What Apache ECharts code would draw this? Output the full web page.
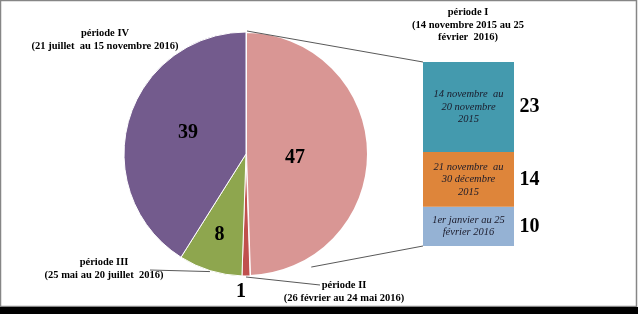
<!DOCTYPE html>
<html><head><meta charset="utf-8">
<script src="https://cdn.jsdelivr.net/npm/echarts@6/dist/echarts.min.js"></script>
<style>html,body{margin:0;padding:0;background:#fff}#c{width:638px;height:314px}</style>
</head><body><div id="c"></div>
<script>
// ---- data ----
const pieNames = ['période I\n(14 novembre 2015 au 25\nfévrier  2016)',
                  'période II\n(26 février au 24 mai 2016)',
                  'période III\n(25 mai au 20 juillet  2016)',
                  'période IV\n(21 juillet  au 15 novembre 2016)'];
const pieValues = [47, 1, 8, 39];
const barNames = ['14 novembre  au\n20 novembre\n2015',
                  '21 novembre  au\n30 décembre\n2015',
                  '1er janvier au 25\nfévrier 2016'];
const barValues = [23, 14, 10];

// ---- style / layout ----
const pieColors = ['#D99694', '#C0504D', '#8EA64E', '#735B8D'];
const barColors = ['#449AAE', '#DE853A', '#95B2D4'];
const FONT = '"Liberation Serif", "Times New Roman", serif';
const pieCenter = [246, 154], pieR = 122;
const gridBox = {left: 423, top: 62, width: 91, height: 184};
const valueLabelPos = [[295, 158], [241, 292], [219.5, 234.5], [188, 133]];
const nameLabelPos = [[468, 25], [344, 292], [104, 269], [105, 40]];
const leaderEnd = [null, [320, 285], [150, 270], null];

const total = pieValues.reduce((a, b) => a + b, 0);
const barTotal = barValues.reduce((a, b) => a + b, 0);
function midAngle(i) { // clockwise from top, degrees
  let s = 0; for (let k = 0; k < i; k++) s += pieValues[k];
  return (s + pieValues[i] / 2) / total * 360;
}
function piePoint(angDeg, r) {
  const a = angDeg * Math.PI / 180;
  return [pieCenter[0] + r * Math.sin(a), pieCenter[1] - r * Math.cos(a)];
}

const chart = echarts.init(document.getElementById('c'), null, {renderer: 'canvas'});

// stacked bar series: bottom first
const barSeries = [];
for (let i = barValues.length - 1; i >= 0; i--) {
  barSeries.push({
    type: 'bar', stack: 'b', barWidth: '100%', silent: true,
    data: [barValues[i]],
    itemStyle: {color: barColors[i]},
    label: {show: true, position: 'inside', formatter: barNames[i],
      fontFamily: FONT, fontStyle: 'italic', fontSize: 10.5, lineHeight: 12.5,
      color: '#1a1a2a', align: 'center'}
  });
}
const mids = [];
{
  let acc = 0;
  for (let i = barValues.length - 1; i >= 0; i--) { mids[i] = acc + barValues[i] / 2; acc += barValues[i]; }
}
const valLabel = {show: true, position: 'right', distance: 51, fontFamily: FONT,
  fontWeight: 'bold', fontSize: 20, color: '#000', textBorderWidth: 0, opacity: 1};

const frame = [
  {type: 'rect', z: -100, shape: {x: 0.5, y: 0.5, width: 636, height: 306},
    style: {fill: '#fff', stroke: '#868686', lineWidth: 1.5}},
  {type: 'rect', z: -100, shape: {x: 0, y: 307, width: 638, height: 7}, style: {fill: '#000'}}
];

const option = {
  animation: false,
  textStyle: {fontFamily: FONT},
  graphic: frame,
  grid: Object.assign({containLabel: false}, gridBox),
  xAxis: {type: 'category', data: ['I'], show: false},
  yAxis: {type: 'value', min: 0, max: barTotal, show: false},
  series: [
    ...barSeries,
    {type: 'scatter', symbolSize: 0, silent: true, z: 10,
      itemStyle: {color: '#000', opacity: 1},
      data: barValues.map((v, i) => ({value: [0, mids[i]],
        label: Object.assign({}, valLabel, {formatter: String(v)})})),
      label: valLabel
    },
    { // slices with value labels
      type: 'pie', center: pieCenter, radius: pieR, startAngle: 90, clockwise: true,
      silent: true,
      itemStyle: {borderColor: '#fff', borderWidth: 1},
      data: pieValues.map((v, i) => ({value: v, name: 'v' + i,
        itemStyle: {color: pieColors[i], borderWidth: i === 0 ? 2 : 1}})),
      label: {show: true, position: 'inside', formatter: '{c}', fontFamily: FONT,
        fontWeight: 'bold', fontSize: 20, color: '#000'},
      labelLine: {show: false},
      labelLayout: p => ({x: valueLabelPos[p.dataIndex][0], y: valueLabelPos[p.dataIndex][1],
        align: 'center', verticalAlign: 'middle'})
    },
    { // name labels
      type: 'pie', center: pieCenter, radius: pieR, startAngle: 90, clockwise: true,
      silent: true, z: 5,
      itemStyle: {color: 'rgba(0,0,0,0)'},
      data: pieValues.map((v, i) => ({value: v, name: pieNames[i],
        labelLine: {show: !!leaderEnd[i]}})),
      label: {show: true, position: 'outside', formatter: '{b}', fontFamily: FONT,
        fontWeight: 'bold', fontSize: 10.5, lineHeight: 12.5, color: '#000', align: 'center',
        overflow: 'none'},
      labelLine: {lineStyle: {color: '#595959', width: 1}, length: 5, length2: 5},
      labelLayout: p => {
        const i = p.dataIndex;
        const o = {x: nameLabelPos[i][0], y: nameLabelPos[i][1], align: 'center',
          verticalAlign: 'middle', hideOverlap: false};
        if (leaderEnd[i]) {
          const s = piePoint(midAngle(i), pieR + 1);
          o.labelLinePoints = [s, s, leaderEnd[i]];
        }
        return o;
      }
    }
  ]
};
chart.setOption(option);

// connector lines between pie slice I and the bar
const yTop = chart.convertToPixel({yAxisIndex: 0}, barTotal);
const yBot = chart.convertToPixel({yAxisIndex: 0}, 0);
const pTop = piePoint(0, pieR + 1);
const pBot = piePoint(150, pieR * 1.07);
chart.setOption({graphic: frame.concat([
  {type: 'line', z: 50, shape: {x1: gridBox.left, y1: yTop, x2: pTop[0] + 1, y2: pTop[1]},
    style: {stroke: '#595959', lineWidth: 1}},
  {type: 'line', z: 50, shape: {x1: gridBox.left, y1: yBot, x2: pBot[0], y2: pBot[1]},
    style: {stroke: '#595959', lineWidth: 1}}
])});
</script></body></html>
